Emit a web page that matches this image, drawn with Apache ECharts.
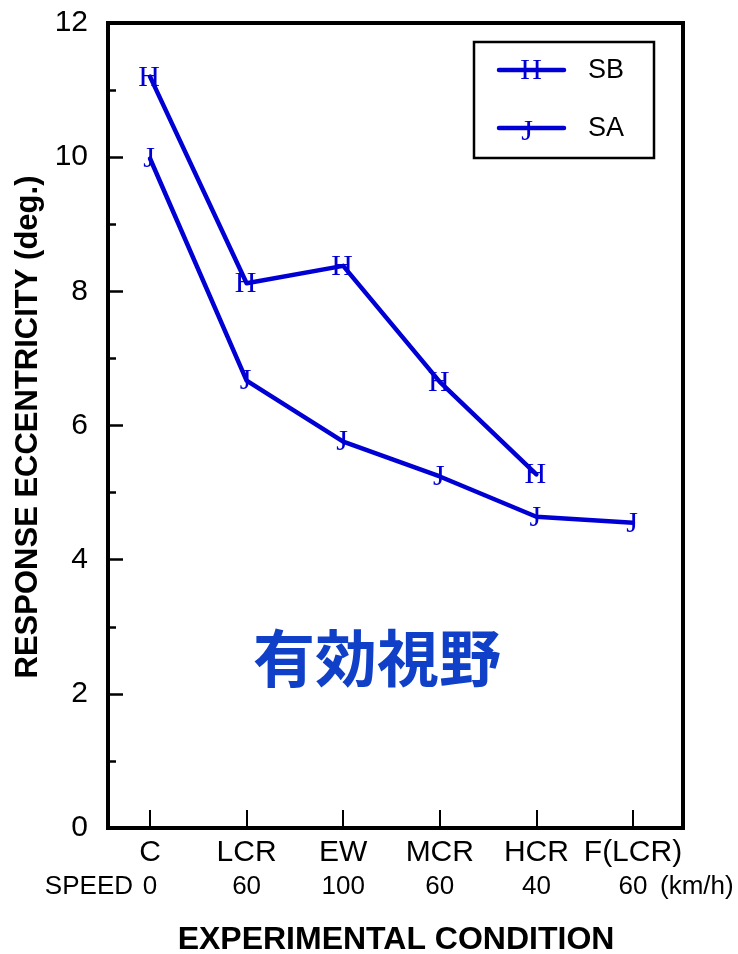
<!DOCTYPE html>
<html>
<head>
<meta charset="utf-8">
<style>
  html, body { margin: 0; padding: 0; background: #fff; }
  #chart { width: 738px; height: 954px; }
</style>
<script src="https://cdn.jsdelivr.net/npm/echarts@6/dist/echarts.min.js"></script>
</head>
<body>
<div id="chart"></div>
<script>
// Experimental conditions and their driving speeds (km/h)
const conditions = ['C', 'LCR', 'EW', 'MCR', 'HCR', 'F(LCR)'];
const speeds = ['0', '60', '100', '60', '40', '60'];

// Response eccentricity (deg.) per condition
const sbValues = [11.2, 8.12, 8.38, 6.65, 5.27];
const saValues = [9.98, 6.67, 5.76, 5.24, 4.64, 4.55];

const yTicks = [0, 2, 4, 6, 8, 10, 12];

const BLUE = '#0000d4';
const MARK_FONT = 'Liberation Serif';
const SANS = 'Liberation Sans, Arial, sans-serif';

function toPoints(values) {
  return values.map((v, i) => [i, v]);
}

function lineSeries(name, values, letter) {
  return {
    name: name,
    type: 'line',
    data: toPoints(values),
    symbol: 'circle',
    symbolSize: 1,
    showAllSymbol: true,
    itemStyle: { color: 'rgba(0,0,0,0)' },
    lineStyle: { color: BLUE, width: 4.5, cap: 'round', join: 'round' },
    label: {
      show: true,
      position: 'inside',
      formatter: letter,
      fontFamily: MARK_FONT,
      fontSize: 30,
      color: BLUE,
      offset: [-1, 1]
    },
    emphasis: { disabled: true },
    animation: false,
    z: 3
  };
}

const chart = echarts.init(document.getElementById('chart'), null, { renderer: 'canvas' });

const option = {
  backgroundColor: '#fff',
  animation: false,
  grid: {
    left: 108, right: 55, top: 23, bottom: 126,
    show: true, borderColor: '#000', borderWidth: 4,
    backgroundColor: 'transparent'
  },
  xAxis: {
    type: 'value',
    min: -0.435,
    max: 5.518,
    axisLine: { show: false, onZero: false },
    splitLine: { show: false },
    axisTick: {
      show: true, inside: true, length: 18,
      customValues: conditions.map((c, i) => i),
      lineStyle: { color: '#000', width: 2 }
    },
    axisLabel: {
      customValues: conditions.map((c, i) => i),
      margin: 8,
      formatter: v => '{a|' + conditions[v] + '}\n{b|' + speeds[v] + '}',
      rich: {
        a: { fontFamily: SANS, fontSize: 30, lineHeight: 34, color: '#000' },
        b: { fontFamily: SANS, fontSize: 26, lineHeight: 34, color: '#000' }
      }
    }
  },
  yAxis: {
    type: 'value',
    min: 0,
    max: 12,
    interval: 2,
    axisLine: { show: false, onZero: false },
    splitLine: { show: false },
    axisTick: { show: true, inside: true, length: 15, lineStyle: { color: '#000', width: 2.5 } },
    minorTick: { show: true, splitNumber: 2, length: 8, lineStyle: { color: '#000', width: 2.5 } },
    axisLabel: {
      margin: 20,
      fontFamily: SANS,
      fontSize: 30,
      color: '#000',
      customValues: yTicks
    }
  },
  series: [
    lineSeries('SB', sbValues, 'H'),
    lineSeries('SA', saValues, 'J')
  ],
  graphic: [
    // axis titles
    {
      type: 'text', x: 396, y: 940,
      style: {
        text: 'EXPERIMENTAL CONDITION', fontFamily: SANS, fontWeight: 'bold',
        fontSize: 32, fill: '#000', align: 'center', verticalAlign: 'middle'
      }
    },
    {
      type: 'text',
      x: 28, y: 427, rotation: Math.PI / 2,
      style: {
        text: 'RESPONSE ECCENTRICITY (deg.)', fontFamily: SANS, fontWeight: 'bold',
        fontSize: 31, fill: '#000', align: 'center', verticalAlign: 'middle'
      }
    },
    // speed row captions
    {
      type: 'text', x: 133, y: 887,
      style: { text: 'SPEED', fontFamily: SANS, fontSize: 26, fill: '#000', align: 'right', verticalAlign: 'middle' }
    },
    {
      type: 'text', x: 660, y: 887,
      style: { text: '(km/h)', fontFamily: SANS, fontSize: 26, fill: '#000', align: 'left', verticalAlign: 'middle' }
    },
    // annotation
    {
      type: 'text', x: 377, y: 658,
      style: {
        text: '有効視野', fontFamily: 'Noto Sans CJK JP', fontWeight: 'bold',
        fontSize: 62, fill: '#1040c8', align: 'center', verticalAlign: 'middle'
      }
    },
    // legend
    {
      type: 'rect', shape: { x: 474, y: 42, width: 180, height: 116 },
      style: { fill: '#fff', stroke: '#000', lineWidth: 2.5 }, z: 10
    },
    {
      type: 'line', shape: { x1: 499, y1: 70, x2: 564, y2: 70 },
      style: { stroke: BLUE, lineWidth: 4.5, lineCap: 'round' }, z: 11
    },
    {
      type: 'text', x: 531, y: 71, z: 12,
      style: { text: 'H', fontFamily: MARK_FONT, fontSize: 30, fill: BLUE, align: 'center', verticalAlign: 'middle' }
    },
    {
      type: 'text', x: 588, y: 71, z: 12,
      style: { text: 'SB', fontFamily: SANS, fontSize: 27, fill: '#000', align: 'left', verticalAlign: 'middle' }
    },
    {
      type: 'line', shape: { x1: 499, y1: 128, x2: 564, y2: 128 },
      style: { stroke: BLUE, lineWidth: 4.5, lineCap: 'round' }, z: 11
    },
    {
      type: 'text', x: 527, y: 132, z: 12,
      style: { text: 'J', fontFamily: MARK_FONT, fontSize: 30, fill: BLUE, align: 'center', verticalAlign: 'middle' }
    },
    {
      type: 'text', x: 588, y: 129, z: 12,
      style: { text: 'SA', fontFamily: SANS, fontSize: 27, fill: '#000', align: 'left', verticalAlign: 'middle' }
    }
  ]
};

chart.setOption(option);
</script>
</body>
</html>
